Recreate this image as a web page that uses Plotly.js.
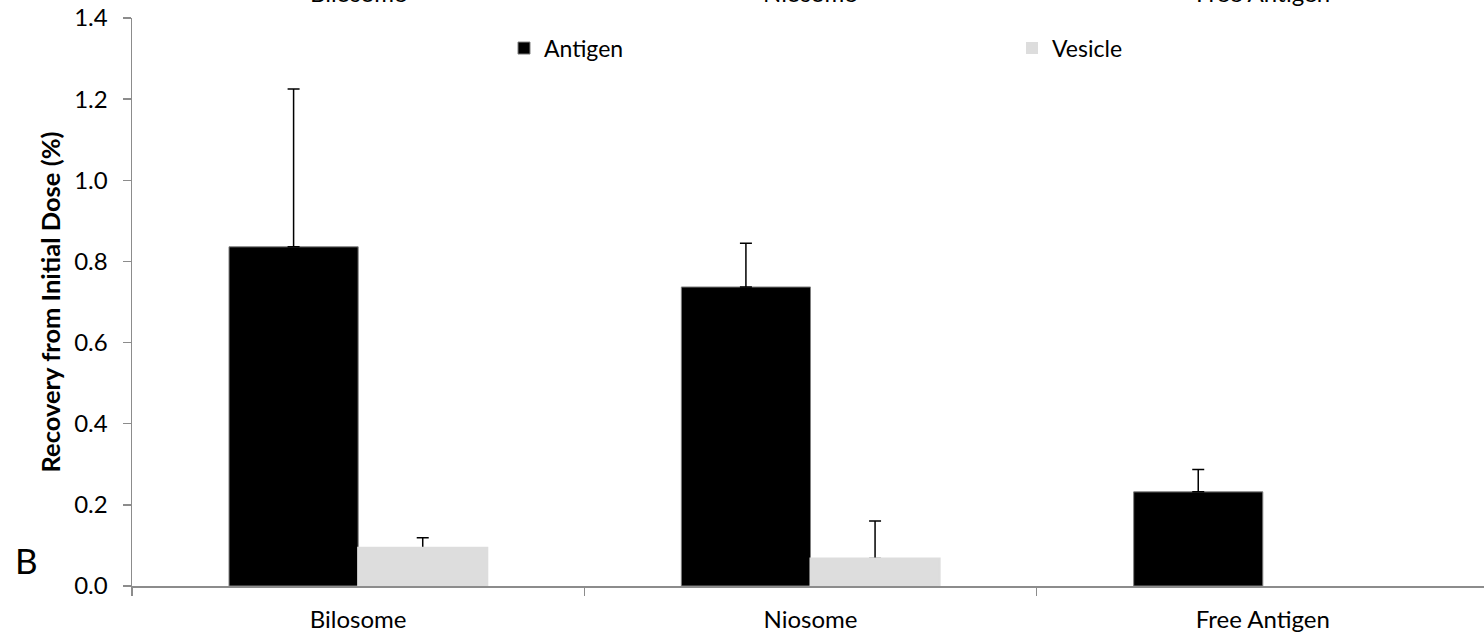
<!DOCTYPE html>
<html>
<head>
<meta charset="utf-8">
<script src="https://cdn.plot.ly/plotly-3.0.1.min.js"></script>
<style>
  html, body { margin: 0; padding: 0; background: #ffffff; }
  #chart { width: 1484px; height: 638px; }
</style>
</head>
<body>
<div id="chart"></div>
<script>
// Data
var categories = ["Bilosome", "Niosome", "Free Antigen"];
var antigenValues = [0.836, 0.737, 0.232];
var antigenErrors = [0.389, 0.108, 0.055];
var vesicleValues = [0.094, 0.068, null];
var vesicleErrors = [0.025, 0.092, null];
var yTickValues = [0, 0.2, 0.4, 0.6, 0.8, 1.0, 1.2, 1.4];
var yTitle = "Recovery from Initial Dose (%)";
var panelLabel = "B";

var FONT = "Lato, 'Open Sans', sans-serif";

var zeros = antigenValues.map(function () { return 0; });

var traces = [
  {
    type: "bar",
    name: "Antigen",
    x: categories,
    y: antigenValues,
    offsetgroup: "antigen",
    legend: "legend",
    marker: { color: "#000000", line: { color: "#7f7f7f", width: 1 } },
    error_y: {
      type: "data", symmetric: false,
      array: antigenErrors, arrayminus: zeros,
      color: "#000000", thickness: 1.5, width: 6
    },
    hoverinfo: "skip"
  },
  {
    type: "bar",
    name: "Vesicle",
    x: categories,
    y: vesicleValues,
    offsetgroup: "vesicle",
    legend: "legend2",
    marker: { color: "#dddddd", line: { width: 0 } },
    error_y: {
      type: "data", symmetric: false,
      array: vesicleErrors, arrayminus: zeros,
      color: "#000000", thickness: 1.5, width: 6
    },
    hoverinfo: "skip"
  },
  {
    // same vesicle bars drawn again on top, hiding the lower cap of the error bars
    type: "bar",
    name: "Vesicle",
    x: categories,
    y: vesicleValues,
    offsetgroup: "vesicle",
    showlegend: false,
    marker: { color: "#dddddd", line: { color: "#dddddd", width: 2 } },
    hoverinfo: "skip"
  }
];

var topLabels = categories.map(function (c) {
  return {
    text: c, x: c, xref: "x", y: 1, yref: "paper",
    yanchor: "bottom", xanchor: "center", yshift: 9,
    showarrow: false,
    font: { family: FONT, size: 24, color: "#000000" }
  };
});

var legendCommon = {
  orientation: "h",
  y: 0.947, yanchor: "middle",
  xanchor: "left",
  font: { family: FONT, size: 23, color: "#000000" },
  bgcolor: "rgba(0,0,0,0)",
  borderwidth: 0
};

var layout = {
  width: 1484,
  height: 638,
  paper_bgcolor: "#ffffff",
  plot_bgcolor: "#ffffff",
  margin: { l: 132, r: 0, t: 18, b: 52, pad: 0 },
  font: { family: FONT, size: 24, color: "#000000" },
  barmode: "group",
  bargap: 0.429,
  bargroupgap: 0,
  showlegend: true,
  legend: Object.assign({}, legendCommon, { x: (504 - 132) / 1352 }),
  legend2: Object.assign({}, legendCommon, { x: (1012 - 132) / 1352 }),
  xaxis: {
    type: "category",
    range: [-0.5, 2.489],
    showline: true, linecolor: "#8c8c8c", linewidth: 1.5,
    ticks: "outside", tickson: "boundaries", ticklen: 8, tickwidth: 1.5, tickcolor: "#8c8c8c",
    ticklabelstandoff: 12,
    showgrid: false, zeroline: false,
    tickfont: { family: FONT, size: 24, color: "#000000" },
    fixedrange: true
  },
  yaxis: {
    range: [0, 1.4],
    tickvals: yTickValues,
    tickformat: ".1f",
    showline: true, linecolor: "#8c8c8c", linewidth: 1.5,
    ticks: "outside", ticklen: 8, tickwidth: 1.5, tickcolor: "#8c8c8c",
    ticklabelstandoff: 10,
    showgrid: false, zeroline: false,
    tickfont: { family: FONT, size: 24, color: "#000000" },
    title: { text: yTitle, font: { family: FONT, size: 25.5, color: "#000000", weight: "bold" }, standoff: 6 },
    fixedrange: true
  },
  annotations: topLabels.concat([
    {
      text: panelLabel, xref: "paper", yref: "paper",
      x: (26 - 132) / 1352, y: (586 - 560) / 568,
      showarrow: false, xanchor: "center", yanchor: "middle",
      font: { family: FONT, size: 35, color: "#000000" }
    }
  ])
};

Plotly.newPlot("chart", traces, layout, { displayModeBar: false, staticPlot: true });
</script>
</body>
</html>
